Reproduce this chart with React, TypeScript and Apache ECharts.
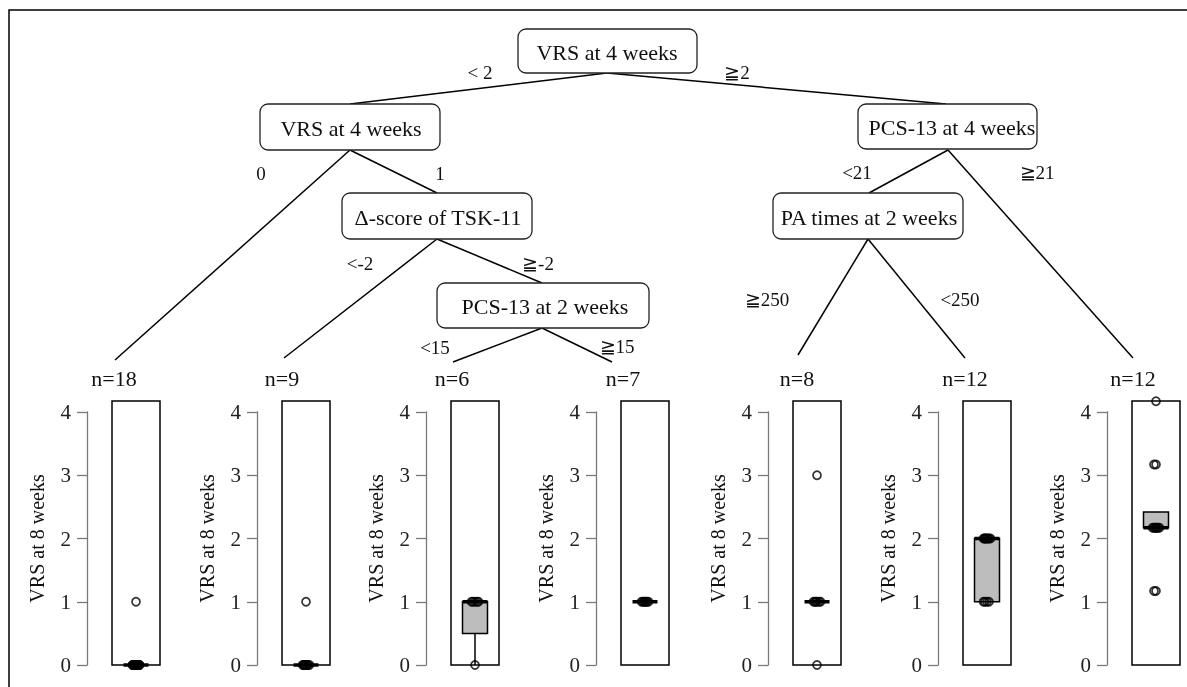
import React, { useEffect, useRef } from "react";
import * as echarts from "echarts";

// ---------- data ----------
const leafLabels = ["n=18", "n=9", "n=6", "n=7", "n=8", "n=12", "n=12"];
const yTicks = [0, 1, 2, 3, 4];
const yAxisTitle = "VRS at 8 weeks";

// box statistics per leaf
const boxMin = [0, 0, 0, 1, 1, 1, 2.17];
const boxQ1 = [0, 0, 0.5, 1, 1, 1, 2.17];
const boxMedian = [0, 0, 1, 1, 1, 2, 2.17];
const boxQ3 = [0, 0, 1, 1, 1, 2, 2.42];
const boxMax = [0, 0, 1, 1, 1, 2, 2.42];

// observations per leaf
const points1 = [0, 0, 0, 0, 0, 0, 0, 0, 0, 0, 0, 0, 0, 0, 0, 0, 0, 1];
const points2 = [0, 0, 0, 0, 0, 0, 0, 0, 1];
const points3 = [0, 1, 1, 1, 1, 1];
const points4 = [1, 1, 1, 1, 1, 1, 1];
const points5 = [0, 1, 1, 1, 1, 1, 1, 3];
const points6 = [1, 1, 1, 1, 2, 2, 2, 2, 2, 2, 2, 2];
const points7 = [1.17, 1.17, 2.17, 2.17, 2.17, 2.17, 2.17, 2.17, 2.17, 3.17, 3.17, 4.17];
const leafPoints = [points1, points2, points3, points4, points5, points6, points7];

// tree
const nodeLabels = [
  "VRS at 4 weeks",
  "VRS at 4 weeks",
  "PCS-13 at 4 weeks",
  "Δ-score of TSK-11",
  "PCS-13 at 2 weeks",
  "PA times at 2 weeks",
];
const edgeLabels = ["< 2", "≧2", "0", "1", "<21", "≧21", "<-2", "≧-2", "≧250", "<250", "<15", "≧15"];

// ---------- layout ----------
const FONT = "Liberation Serif";
const nodeBoxes = [
  { x: 518, y: 29, w: 179, h: 44, tx: 607 },
  { x: 260, y: 104, w: 180, h: 46, tx: 351 },
  { x: 858, y: 104, w: 179, h: 45, tx: 952 },
  { x: 342, y: 193, w: 190, h: 46, tx: 438 },
  { x: 437, y: 283, w: 212, h: 45, tx: 545 },
  { x: 773, y: 193, w: 190, h: 46, tx: 869 },
];
const edgeLabelPos = [
  [480, 72], [737, 72], [261, 173], [440, 173], [857, 172], [1037, 172],
  [360, 263], [538, 263], [767, 299], [960, 299], [435, 347], [617, 346],
];
const edges = [
  [607, 73, 350, 104], [607, 73, 946, 104],
  [350, 150, 115, 360], [350, 150, 437, 193],
  [437, 239, 284, 358], [437, 239, 542, 283],
  [542, 328, 453, 362], [542, 328, 612, 362],
  [948, 150, 869, 193], [948, 150, 1133, 358],
  [868, 239, 798, 355], [868, 239, 965, 358],
];
const axisXs = [87, 257, 426, 596, 768, 938, 1107];
const labelXs = [114, 282, 452, 623, 797, 965, 1133];
const FRAME_GAP = 25;
const FRAME_W = 48;
const AX_TOP = 412;
const AX_H = 253;
const FR_TOP = 401;
const FR_H = 264;
const jitter = [0, -2, 2, -3.5, 3.5, -1, 1, -2.5, 2.5];

export default function App() {
  const ref = useRef<HTMLDivElement>(null);

  useEffect(() => {
    if (!ref.current) return;
    const chart = echarts.init(ref.current, null, { renderer: "svg" });

    const grids: any[] = [];
    const xAxes: any[] = [];
    const yAxes: any[] = [];
    const series: any[] = [];
    const frameMax = (4 * FR_H) / AX_H;

    axisXs.forEach((ax, i) => {
      grids.push({ left: ax, top: AX_TOP, width: 1, height: AX_H, show: false });
      xAxes.push({ gridIndex: 2 * i, type: "value", show: false, min: 0, max: 1 });
      yAxes.push({
        gridIndex: 2 * i,
        type: "value",
        min: 0,
        max: 4,
        interval: 1,
        position: "left",
        axisLine: { show: true, lineStyle: { color: "#7a7a7a", width: 1.3 } },
        axisTick: { show: true, length: 10, inside: false, lineStyle: { color: "#7a7a7a", width: 1.3 }, customValues: yTicks },
        axisLabel: { show: true, margin: 16, fontSize: 21, fontFamily: FONT, color: "#222", customValues: yTicks },
        splitLine: { show: false },
        name: yAxisTitle,
        nameLocation: "middle",
        nameRotate: 90,
        nameGap: 40,
        nameTextStyle: { fontSize: 20, fontFamily: FONT, color: "#111" },
      });
      grids.push({
        left: ax + FRAME_GAP,
        top: FR_TOP,
        width: FRAME_W,
        height: FR_H,
        show: true,
        borderColor: "#000",
        borderWidth: 1.5,
        backgroundColor: "rgba(0,0,0,0)",
      });
      xAxes.push({ gridIndex: 2 * i + 1, type: "value", show: false, min: 0, max: 1 });
      yAxes.push({ gridIndex: 2 * i + 1, type: "value", show: false, min: 0, max: frameMax });

      series.push({
        type: "custom",
        xAxisIndex: 2 * i + 1,
        yAxisIndex: 2 * i + 1,
        z: 2,
        data: [[0.5, boxMin[i], boxQ1[i], boxMedian[i], boxQ3[i], boxMax[i]]],
        encode: { x: 0, y: [1, 2, 3, 4, 5] },
        renderItem: (_p: any, api: any) => {
          const xv = api.value(0);
          const c0 = api.coord([xv, api.value(1)]);
          const cx = c0[0];
          const yMin = c0[1];
          const yQ1 = api.coord([xv, api.value(2)])[1];
          const yMed = api.coord([xv, api.value(3)])[1];
          const yQ3 = api.coord([xv, api.value(4)])[1];
          const yMax = api.coord([xv, api.value(5)])[1];
          const half = 12.5;
          const children: any[] = [];
          const st = { stroke: "#000", lineWidth: 1.5 };
          if (yMin - yQ1 > 0.5) children.push({ type: "line", shape: { x1: cx, y1: yMin, x2: cx, y2: yQ1 }, style: st });
          if (yQ3 - yMax > 0.5) children.push({ type: "line", shape: { x1: cx, y1: yQ3, x2: cx, y2: yMax }, style: st });
          if (yQ1 - yQ3 > 0.5)
            children.push({
              type: "rect",
              shape: { x: cx - half, y: yQ3, width: 2 * half, height: yQ1 - yQ3 },
              style: { fill: "#bdbdbd", stroke: "#000", lineWidth: 1.5 },
            });
          children.push({ type: "line", shape: { x1: cx - half, y1: yMed, x2: cx + half, y2: yMed }, style: { stroke: "#000", lineWidth: 3.5 } });
          return { type: "group", children };
        },
      });

      const seen: Record<string, number> = {};
      const pts = leafPoints[i].map((v) => {
        const k = seen[v] || 0;
        seen[v] = k + 1;
        return { value: [0.5, v], symbolOffset: [jitter[k % jitter.length], 0] };
      });
      series.push({
        type: "scatter",
        xAxisIndex: 2 * i + 1,
        yAxisIndex: 2 * i + 1,
        z: 3,
        symbol: "circle",
        symbolSize: 8,
        itemStyle: { color: "rgba(255,255,255,0)", borderColor: "#000", borderWidth: 1.7 },
        data: pts,
        silent: true,
      });
    });

    const mkText = (text: string, x: number, y: number, size: number, z = 11) => ({
      type: "text",
      z,
      style: {
        text,
        x,
        y,
        font: size + "px Liberation Serif",
        fontSize: size,
        fontFamily: FONT,
        textAlign: "center",
        textVerticalAlign: "middle",
        align: "center",
        verticalAlign: "middle",
        fill: "#111",
      },
    });

    const graphic: any[] = [];
    graphic.push({
      type: "polyline",
      shape: { points: [[9, 690], [9, 10], [1190, 10]] },
      style: { stroke: "#000", lineWidth: 1.5, fill: "none" },
    });
    edges.forEach((e) => {
      graphic.push({ type: "line", shape: { x1: e[0], y1: e[1], x2: e[2], y2: e[3] }, style: { stroke: "#000", lineWidth: 1.5 } });
    });
    nodeBoxes.forEach((b, i) => {
      graphic.push({
        type: "rect",
        shape: { x: b.x, y: b.y, width: b.w, height: b.h, r: 8 },
        style: { fill: "#fff", stroke: "#222", lineWidth: 1.3 },
        z: 10,
      });
      graphic.push(mkText(nodeLabels[i], b.tx, b.y + b.h / 2 + 1, 22));
    });
    edgeLabels.forEach((t, i) => graphic.push(mkText(t, edgeLabelPos[i][0], edgeLabelPos[i][1], 19)));
    leafLabels.forEach((t, i) => graphic.push(mkText(t, labelXs[i], 378, 22)));

    chart.setOption({
      animation: false,
      grid: grids,
      xAxis: xAxes,
      yAxis: yAxes,
      series,
      graphic,
    });

    return () => chart.dispose();
  }, []);

  return <div ref={ref} style={{ position: "fixed", left: 0, top: 0, width: 1187, height: 687 }} />;
}
